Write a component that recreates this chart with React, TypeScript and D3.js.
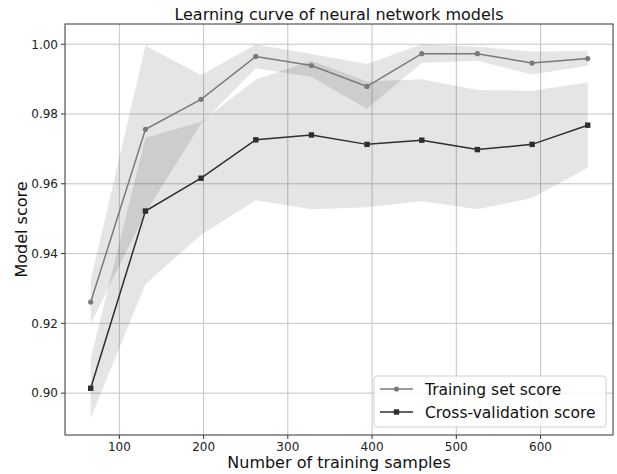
import React from "react";
import * as d3 from "d3";

const trainSizes = [66, 131, 197, 262, 328, 394, 459, 525, 590, 656];
const trainMean = [0.9261, 0.9756, 0.9842, 0.9965, 0.9939, 0.9879, 0.9973, 0.9973, 0.9946, 0.9959];
const trainStd = [0.0062, 0.024, 0.007, 0.0034, 0.0033, 0.0064, 0.0027, 0.002, 0.0033, 0.0021];
const cvMean = [0.9014, 0.9522, 0.9616, 0.9726, 0.974, 0.9713, 0.9725, 0.9698, 0.9713, 0.9768];
const cvStd = [0.0086, 0.021, 0.0162, 0.0173, 0.0213, 0.018, 0.0175, 0.0171, 0.0154, 0.0122];
const xTicks = [100, 200, 300, 400, 500, 600];
const yTicks = [0.9, 0.92, 0.94, 0.96, 0.98, 1.0];
const titleText = "Learning curve of neural network models";
const xLabel = "Number of training samples";
const yLabel = "Model score";
const legendLabels = ["Training set score", "Cross-validation score"];

const W = 617, H = 474;
const L = 65, R = 613, T = 24, B = 435;
const FONT = "DejaVu Sans, sans-serif";
const TRAIN_COLOR = "#7a7a7a";
const CV_COLOR = "#2e2e2e";

export default function App() {
  const x = d3.scaleLinear().domain([35.5, 686]).range([L, R]);
  const y = d3.scaleLinear().domain([0.888, 1.0058]).range([B, T]);
  const idx = d3.range(trainSizes.length);

  const area = (m: number[], s: number[]) =>
    d3.area<number>()
      .x((i) => x(trainSizes[i]))
      .y0((i) => y(m[i] - s[i]))
      .y1((i) => y(m[i] + s[i]))(idx) || "";
  const line = (m: number[]) =>
    d3.line<number>().x((i) => x(trainSizes[i])).y((i) => y(m[i]))(idx) || "";

  const lgX = 374, lgY = 376, lgW = 232, lgH = 51;

  return (
    <svg width={W} height={H} style={{ position: "absolute", left: 0, top: 0, background: "#fff" }} fontFamily={FONT}>
      <rect width={W} height={H} fill="#fff" />
      {/* grid */}
      {xTicks.map((t) => (
        <line key={"gx" + t} x1={x(t)} x2={x(t)} y1={T} y2={B} stroke="#c4c4c4" strokeWidth={1} />
      ))}
      {yTicks.map((t) => (
        <line key={"gy" + t} x1={L} x2={R} y1={y(t)} y2={y(t)} stroke="#c4c4c4" strokeWidth={1} />
      ))}
      {/* bands */}
      <path d={area(trainMean, trainStd)} fill="#000" fillOpacity={0.1} />
      <path d={area(cvMean, cvStd)} fill="#000" fillOpacity={0.1} />
      {/* lines */}
      <path d={line(trainMean)} fill="none" stroke={TRAIN_COLOR} strokeWidth={1.5} />
      <path d={line(cvMean)} fill="none" stroke={CV_COLOR} strokeWidth={1.5} />
      {idx.map((i) => (
        <circle key={"tc" + i} cx={x(trainSizes[i])} cy={y(trainMean[i])} r={2.6} fill={TRAIN_COLOR} />
      ))}
      {idx.map((i) => (
        <rect key={"cs" + i} x={x(trainSizes[i]) - 2.7} y={y(cvMean[i]) - 2.7} width={5.4} height={5.4} fill={CV_COLOR} />
      ))}
      {/* frame */}
      <rect x={L} y={T} width={R - L} height={B - T} fill="none" stroke="#333" strokeWidth={1} />
      {/* ticks */}
      {xTicks.map((t) => (
        <g key={"xt" + t}>
          <line x1={x(t)} x2={x(t)} y1={B} y2={B + 4} stroke="#333" />
          <text x={x(t)} y={451} fontSize={12} textAnchor="middle" fill="#222">{t}</text>
        </g>
      ))}
      {yTicks.map((t) => (
        <g key={"yt" + t}>
          <line x1={L - 4} x2={L} y1={y(t)} y2={y(t)} stroke="#333" />
          <text x={L - 7} y={y(t) + 4.3} fontSize={12} textAnchor="end" fill="#222">{t.toFixed(2)}</text>
        </g>
      ))}
      {/* labels */}
      <text x={(L + R) / 2} y={20} fontSize={16} textAnchor="middle" fill="#111">{titleText}</text>
      <text x={(L + R) / 2} y={468} fontSize={16} textAnchor="middle" fill="#111">{xLabel}</text>
      <text transform={`translate(27,${(T + B) / 2}) rotate(-90)`} fontSize={16} textAnchor="middle" fill="#111">{yLabel}</text>
      {/* legend */}
      <rect x={lgX} y={lgY} width={lgW} height={lgH} rx={3} fill="#fff" fillOpacity={0.85} stroke="#d0d0d0" />
      <line x1={380} x2={413} y1={389} y2={389} stroke={TRAIN_COLOR} strokeWidth={1.5} />
      <circle cx={396.5} cy={389} r={2.6} fill={TRAIN_COLOR} />
      <text x={425} y={395} fontSize={15.5} fill="#111">{legendLabels[0]}</text>
      <line x1={380} x2={413} y1={412} y2={412} stroke={CV_COLOR} strokeWidth={1.5} />
      <rect x={396.5 - 2.7} y={412 - 2.7} width={5.4} height={5.4} fill={CV_COLOR} />
      <text x={425} y={418} fontSize={15.5} fill="#111">{legendLabels[1]}</text>
    </svg>
  );
}
